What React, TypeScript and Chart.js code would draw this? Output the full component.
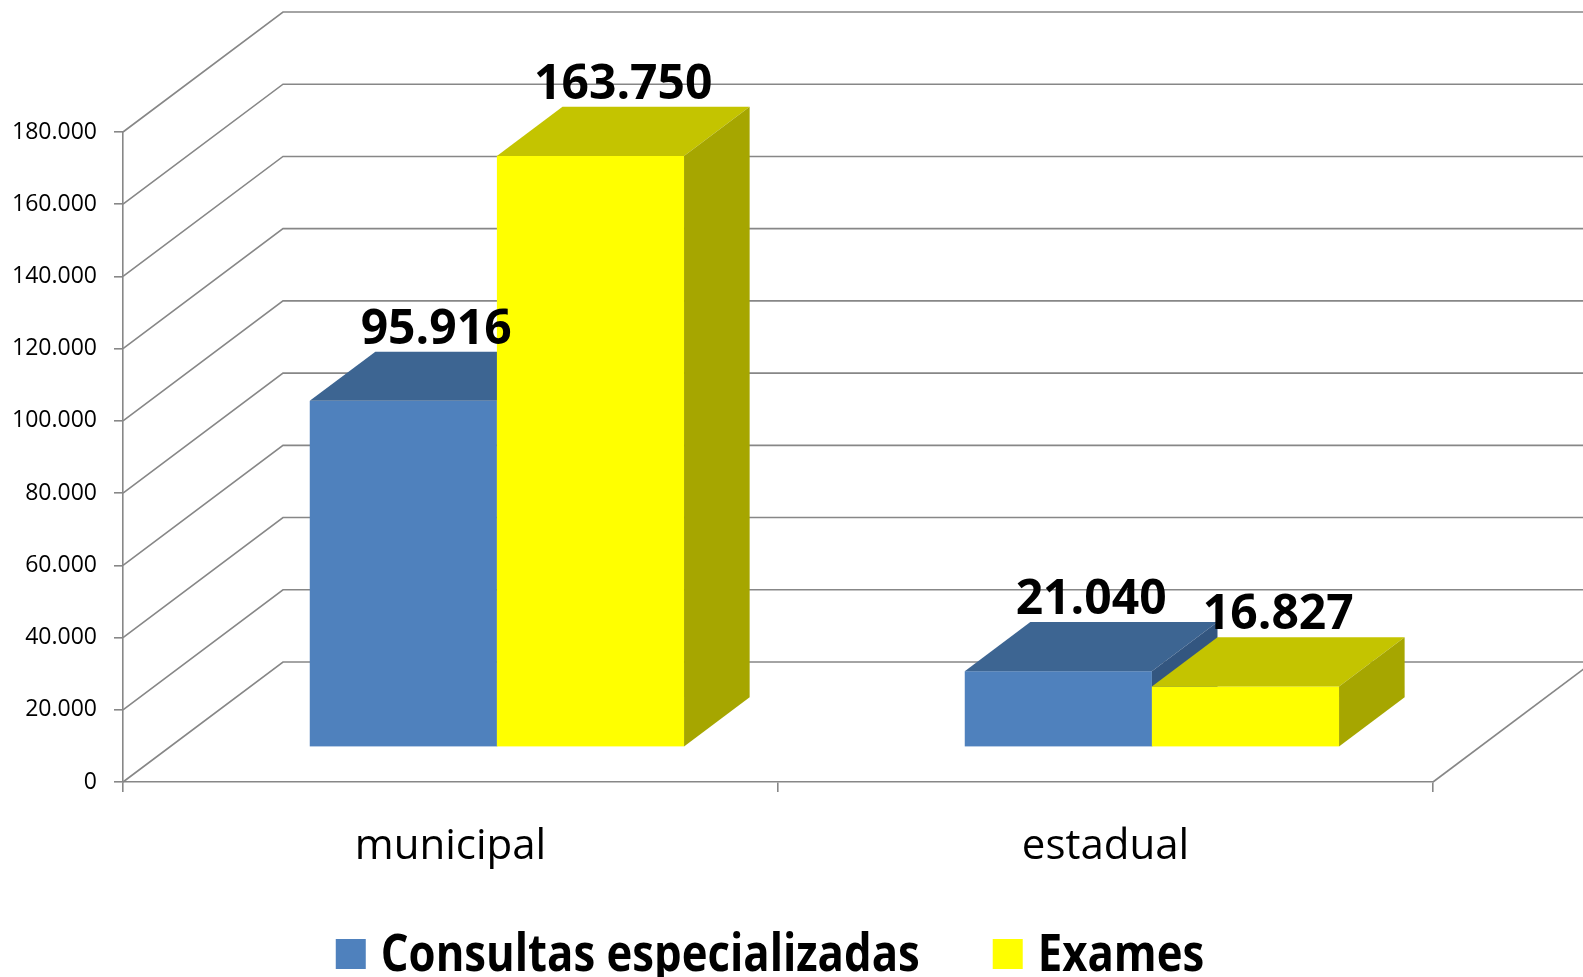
import { useEffect, useRef } from 'react';
import { Chart, registerables } from 'chart.js';

Chart.register(...registerables);

// ---- data ----
const categories = ['municipal', 'estadual'];
const consultas = [95916, 21040];
const exames = [163750, 16827];
const seriesNames = ['Consultas especializadas', 'Exames'];
const yTickValues = [0, 20000, 40000, 60000, 80000, 100000, 120000, 140000, 160000, 180000];

// ---- style ----
const FACES = [
  { front: '#4F81BD', top: '#3D6592', side: '#335680' },
  { front: '#FFFF00', top: '#C4C400', side: '#A6A600' },
];
const GRID = '#878787';
const DEPTH_X = 160;
const DEPTH_Y = 120;
const BAR_FRONT = 0.29;
const BAR_BACK = 0.7;
const FONT = '"Open Sans", "Noto Sans", sans-serif';

const fmt = (v: number) => String(Math.round(v)).replace(/\B(?=(\d{3})+(?!\d))/g, '.');

const threeD = {
  id: 'threeD',
  beforeDatasetsDraw(chart: any) {
    const { ctx, chartArea, scales } = chart;
    const y = scales.y;
    ctx.save();
    ctx.strokeStyle = GRID;
    ctx.lineWidth = 1.6;
    y.ticks.forEach((t: any) => {
      const py = y.getPixelForValue(t.value);
      ctx.beginPath();
      ctx.moveTo(chartArea.left, py);
      ctx.lineTo(chartArea.left + DEPTH_X, py - DEPTH_Y);
      ctx.lineTo(chart.width, py - DEPTH_Y);
      ctx.stroke();
    });
    const by = y.getPixelForValue(0);
    ctx.beginPath();
    ctx.moveTo(chartArea.right, by);
    ctx.lineTo(chartArea.right + DEPTH_X, by - DEPTH_Y);
    ctx.stroke();
    ctx.restore();
  },
  afterDatasetsDraw(chart: any) {
    const { ctx } = chart;
    const ox = BAR_FRONT * DEPTH_X;
    const oy = BAR_FRONT * DEPTH_Y;
    const dx = (BAR_BACK - BAR_FRONT) * DEPTH_X;
    const dy = (BAR_BACK - BAR_FRONT) * DEPTH_Y;
    const labels: any[] = [];
    ctx.save();
    for (let j = 0; j < categories.length; j++) {
      chart.data.datasets.forEach((ds: any, i: number) => {
        const bar = chart.getDatasetMeta(i).data[j];
        const { x, y, base, width } = bar.getProps(['x', 'y', 'base', 'width'], true);
        const l = x - width / 2 + ox;
        const r = x + width / 2 + ox;
        const t = y - oy;
        const b = base - oy;
        const f = FACES[i];
        ctx.fillStyle = f.front;
        ctx.fillRect(l, t, r - l, b - t);
        ctx.fillStyle = f.top;
        ctx.beginPath();
        ctx.moveTo(l, t);
        ctx.lineTo(l + dx, t - dy);
        ctx.lineTo(r + dx, t - dy);
        ctx.lineTo(r, t);
        ctx.closePath();
        ctx.fill();
        ctx.fillStyle = f.side;
        ctx.beginPath();
        ctx.moveTo(r, t);
        ctx.lineTo(r + dx, t - dy);
        ctx.lineTo(r + dx, b - dy);
        ctx.lineTo(r, b);
        ctx.closePath();
        ctx.fill();
        labels.push({ text: fmt(ds.data[j]), x: (l + r) / 2 + dx / 2, y: t - dy - 8 });
      });
    }
    ctx.fillStyle = '#000';
    ctx.font = `bold 48px ${FONT}`;
    ctx.textAlign = 'center';
    ctx.textBaseline = 'alphabetic';
    labels.forEach((lb) => ctx.fillText(lb.text, lb.x, lb.y));
    ctx.restore();
  },
  afterDraw(chart: any) {
    const { ctx, chartArea } = chart;
    ctx.save();
    ctx.font = `bold 52px ${FONT}`;
    ctx.textBaseline = 'alphabetic';
    ctx.textAlign = 'left';
    const squeeze = 0.84;
    const box = 30;
    const gap = 15;
    const itemGap = 73;
    const widths = seriesNames.map((s) => ctx.measureText(s).width * squeeze);
    const total = widths.reduce((a, w) => a + box + gap + w, 0) + itemGap * (seriesNames.length - 1);
    let x = (chartArea.left + chartArea.right) / 2 - 8 - total / 2;
    const baseline = chart.height - 6;
    seriesNames.forEach((s, i) => {
      ctx.fillStyle = FACES[i].front;
      ctx.fillRect(x, baseline - 32, box, box);
      x += box + gap;
      ctx.save();
      ctx.translate(x, baseline);
      ctx.scale(squeeze, 1);
      ctx.fillStyle = '#000';
      ctx.fillText(s, 0, 0);
      ctx.restore();
      x += widths[i] + itemGap;
    });
    ctx.restore();
  },
};

export default function App() {
  const ref = useRef<HTMLCanvasElement | null>(null);
  useEffect(() => {
    if (!ref.current) return;
    const chart = new Chart(ref.current, {
      type: 'bar',
      data: {
        labels: categories,
        datasets: [
          { label: seriesNames[0], data: consultas, backgroundColor: 'rgba(0,0,0,0)' },
          { label: seriesNames[1], data: exames, backgroundColor: 'rgba(0,0,0,0)' },
        ],
      },
      options: {
        responsive: false,
        animation: false,
        devicePixelRatio: 1,
        categoryPercentage: 2 / 3.5,
        barPercentage: 1,
        layout: { padding: { top: 132, right: 150, bottom: 75, left: 0 } },
        plugins: { legend: { display: false }, tooltip: { enabled: false } },
        scales: {
          x: {
            offset: true,
            ticks: { color: '#000', font: { family: FONT, size: 42 }, padding: 30 },
            grid: { offset: true, drawOnChartArea: false, drawTicks: true, tickLength: 10, color: GRID, lineWidth: 1.6 },
            border: { display: true, color: GRID, width: 1.6 },
            afterFit: (s: any) => { s.height = 120; },
          },
          y: {
            min: 0,
            max: 180000,
            afterBuildTicks: (s: any) => { s.ticks = yTickValues.map((v) => ({ value: v })); },
            ticks: { color: '#000', font: { family: FONT, size: 23 }, padding: 17, callback: (v: any) => fmt(Number(v)) },
            grid: { drawOnChartArea: false, drawTicks: true, tickLength: 9, color: GRID, lineWidth: 1.6 },
            border: { display: true, color: GRID, width: 1.6 },
            afterFit: (s: any) => { s.width = 123; },
          },
        },
      } as any,
      plugins: [threeD],
    });
    return () => chart.destroy();
  }, []);
  return (
    <div style={{ position: 'fixed', left: 0, top: 0, width: 1583, height: 977, background: '#fff' }}>
      <canvas ref={ref} width={1583} height={977} />
    </div>
  );
}
